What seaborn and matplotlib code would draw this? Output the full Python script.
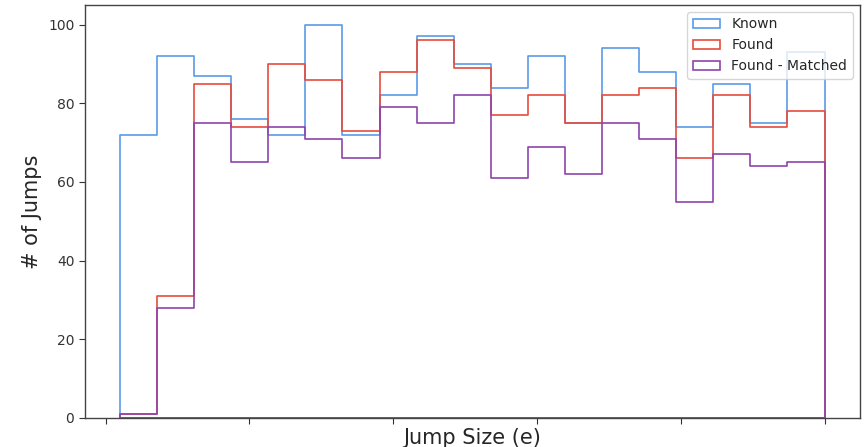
import numpy as np
import pandas as pd
import matplotlib
matplotlib.use("Agg")
import matplotlib.pyplot as plt
import seaborn as sns
from matplotlib.patches import Patch

# ---- data (counts per bin) ----
series_names = ["Known", "Found", "Found - Matched"]
known = [72, 92, 87, 76, 72, 100, 72, 82, 97, 90, 84, 92, 75, 94, 88, 74, 85, 75, 93]
found = [1, 31, 85, 74, 90, 86, 73, 88, 96, 89, 77, 82, 75, 82, 84, 66, 82, 74, 78]
matched = [1, 28, 75, 65, 74, 71, 66, 79, 75, 82, 61, 69, 62, 75, 71, 55, 67, 64, 65]
bin_lo, bin_hi, n_bins = 0.1, 5.0, 19
colors = ["#5a9be6", "#e74c3c", "#8e44ad"]

edges = np.linspace(bin_lo, bin_hi, n_bins + 1)
centers = (edges[:-1] + edges[1:]) / 2

sns.set_style("ticks")
plt.rcParams["font.family"] = ["DejaVu Sans"]

fig = plt.figure(figsize=(8.65, 4.47), dpi=100)
ax = fig.add_axes([0.098, 0.065, 0.896, 0.924])

for name, vals, col in zip(series_names, [known, found, matched], colors):
    df = pd.DataFrame({"x": centers, "w": np.asarray(vals, dtype=float)})
    sns.histplot(data=df, x="x", weights="w", bins=n_bins,
                 binrange=(bin_lo, bin_hi), element="step",
                 fill=True, color=col, facecolor=(1, 1, 1, 0), edgecolor=col,
                 linewidth=1.2, ax=ax)

ax.set_xticks(np.arange(0, 6))
ax.set_xticklabels([])
ax.set_yticks([0, 20, 40, 60, 80, 100])
ax.tick_params(axis="y", labelsize=10, colors="#333333", length=4)
ax.tick_params(axis="x", colors="#333333", length=4)
for s in ax.spines.values():
    s.set_color("#444444")
    s.set_linewidth(1.0)
ax.set_ylabel("# of Jumps", fontsize=15)
ax.set_xlabel("Jump Size (e)", fontsize=15, labelpad=0)

handles = [Patch(facecolor="none", edgecolor=c, linewidth=1.2) for c in colors]
ax.legend(handles, series_names, loc="upper right", fontsize=10, frameon=True,
          framealpha=0.8, edgecolor="#cccccc")

fig.savefig("out.png", dpi=100)
